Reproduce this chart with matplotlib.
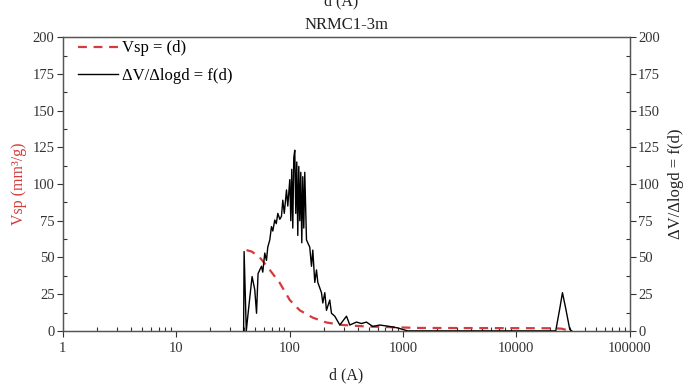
"""
Pore size distribution plot for NRMC1-3m (Vsp and dV/dlogd vs d)
"""

import matplotlib.pyplot as plt
from matplotlib.ticker import LogLocator, FixedLocator, NullFormatter

""" ------------------- Data read off the chart ------------------- """

# dV/dlogd curve (black)
d_dv = [39.3, 39.7, 41.5, 42.8, 44.6, 46.7, 49.3, 51.1, 52.7, 56.5, 58.0, 60.4,
        62.5, 64.2, 66.9, 69.2, 71.1, 74.0, 76.3, 78.7, 82.0, 84.8, 87.1, 89.8,
        93.9, 96.4, 100.4, 102.5, 104.5, 106.7, 108.9, 111.1, 113.4, 115.7, 118.1,
        120.5, 123.0, 125.5, 128.1, 130.7, 133.4, 136.1, 140.9, 144.6, 150.6,
        156.0, 160.2, 166.8, 172.7, 177.4, 191.1, 196.3, 204.4, 211.5, 226.1,
        234.0, 250.4, 277.3, 317.6, 339.6, 389.0, 430.5, 476.4, 541.4, 624.2,
        764.9, 899.5, 1101, 22250, 24130, 25510, 27300, 29590, 30800]
dv = [0, 54, 0, 10, 23, 37, 28, 12, 39, 44, 40, 53,
      48, 57, 62, 71, 68, 75.5, 73, 80, 76, 78, 89, 80,
      96, 85, 103, 75, 110, 70, 118, 123, 80, 115, 65,
      112, 75, 108, 60, 105, 70, 108, 62, 60, 57,
      44, 55, 33, 41.5, 33, 26, 19, 26, 14, 21,
      12, 10, 4, 10, 4, 6, 5, 6, 3, 4,
      3, 2, 0, 0, 15, 26, 15, 1, 0]

# cumulative specific volume (red dashed)
d_vsp = [41.7, 46.4, 54.6, 66.9, 82.0, 100.4, 123.0, 160.2, 211.5, 294.4,
         476.4, 812.8, 1406, 21810, 25130, 29590]
vsp = [55, 54, 50, 41.5, 32.6, 21, 14, 9, 5.7, 4,
       3, 2.5, 2, 1.8, 1.5, 0]

xticks = [1, 10, 100, 1000, 10000, 100000]
xtick_labels = ['1', '10', '100', '1000', '10000', '100000']
yticks = [0, 25, 50, 75, 100, 125, 150, 175, 200]

""" ------------------- Plot ------------------- """

plt.rcParams['font.family'] = ['Liberation Serif', 'DejaVu Serif']
red = '#d63a3a'
tick_col = '#333333'

fig = plt.figure(figsize=(6.83, 3.87), dpi=100)
ax = fig.add_axes([0.092, 0.145, 0.830, 0.759])
ax2 = ax.twinx()

l1, = ax.plot(d_vsp, vsp, '--', color=red, lw=1.6, dashes=(4, 3), label='Vsp = (d)')
l2, = ax2.plot(d_dv, dv, '-', color='black', lw=1.0, label='ΔV/Δlogd = f(d)')

for a in (ax, ax2):
  a.set_xscale('log')
  a.set_xlim(1, 100000)
  a.set_ylim(0, 200)
  a.yaxis.set_major_locator(FixedLocator(yticks))
  a.yaxis.set_minor_locator(FixedLocator([12.5 + 25 * i for i in range(8)]))
  a.tick_params(which='major', direction='out', length=4, width=0.8,
                labelsize=10.5, colors=tick_col, pad=2)
  a.tick_params(which='minor', direction='in', length=3, width=0.8, colors=tick_col)

ax.set_xticks(xticks)
ax.set_xticklabels(xtick_labels)
ax.xaxis.set_minor_locator(LogLocator(base=10, subs=range(2, 10)))
ax.xaxis.set_minor_formatter(NullFormatter())
ax.tick_params(axis='x', which='major', pad=4)

for a in (ax, ax2):
  for s in a.spines.values():
    s.set_color('#555555')
    s.set_linewidth(0.9)

ax.set_xlabel('d (A)', fontsize=11.5, color='#222222', labelpad=9)
ax.set_ylabel('Vsp (mm³/g)', fontsize=11.5, color=red, labelpad=4)
ax2.set_ylabel('ΔV/Δlogd = f(d)', fontsize=12, color='#222222', labelpad=6)
ax.set_title('NRMC1-3m', fontsize=12, color='#222222', pad=6)
fig.text(0.5, 0.996, 'd (A)', ha='center', va='center', fontsize=11.5, color='#222222')

ax.legend(handles=[l1, l2], loc='upper left', bbox_to_anchor=(0.02, 1.0),
          frameon=False, fontsize=12, handlelength=2.4, handletextpad=0.25,
          borderaxespad=0.1, borderpad=0.1, labelspacing=0.7)

fig.savefig('out.png', dpi=100)
